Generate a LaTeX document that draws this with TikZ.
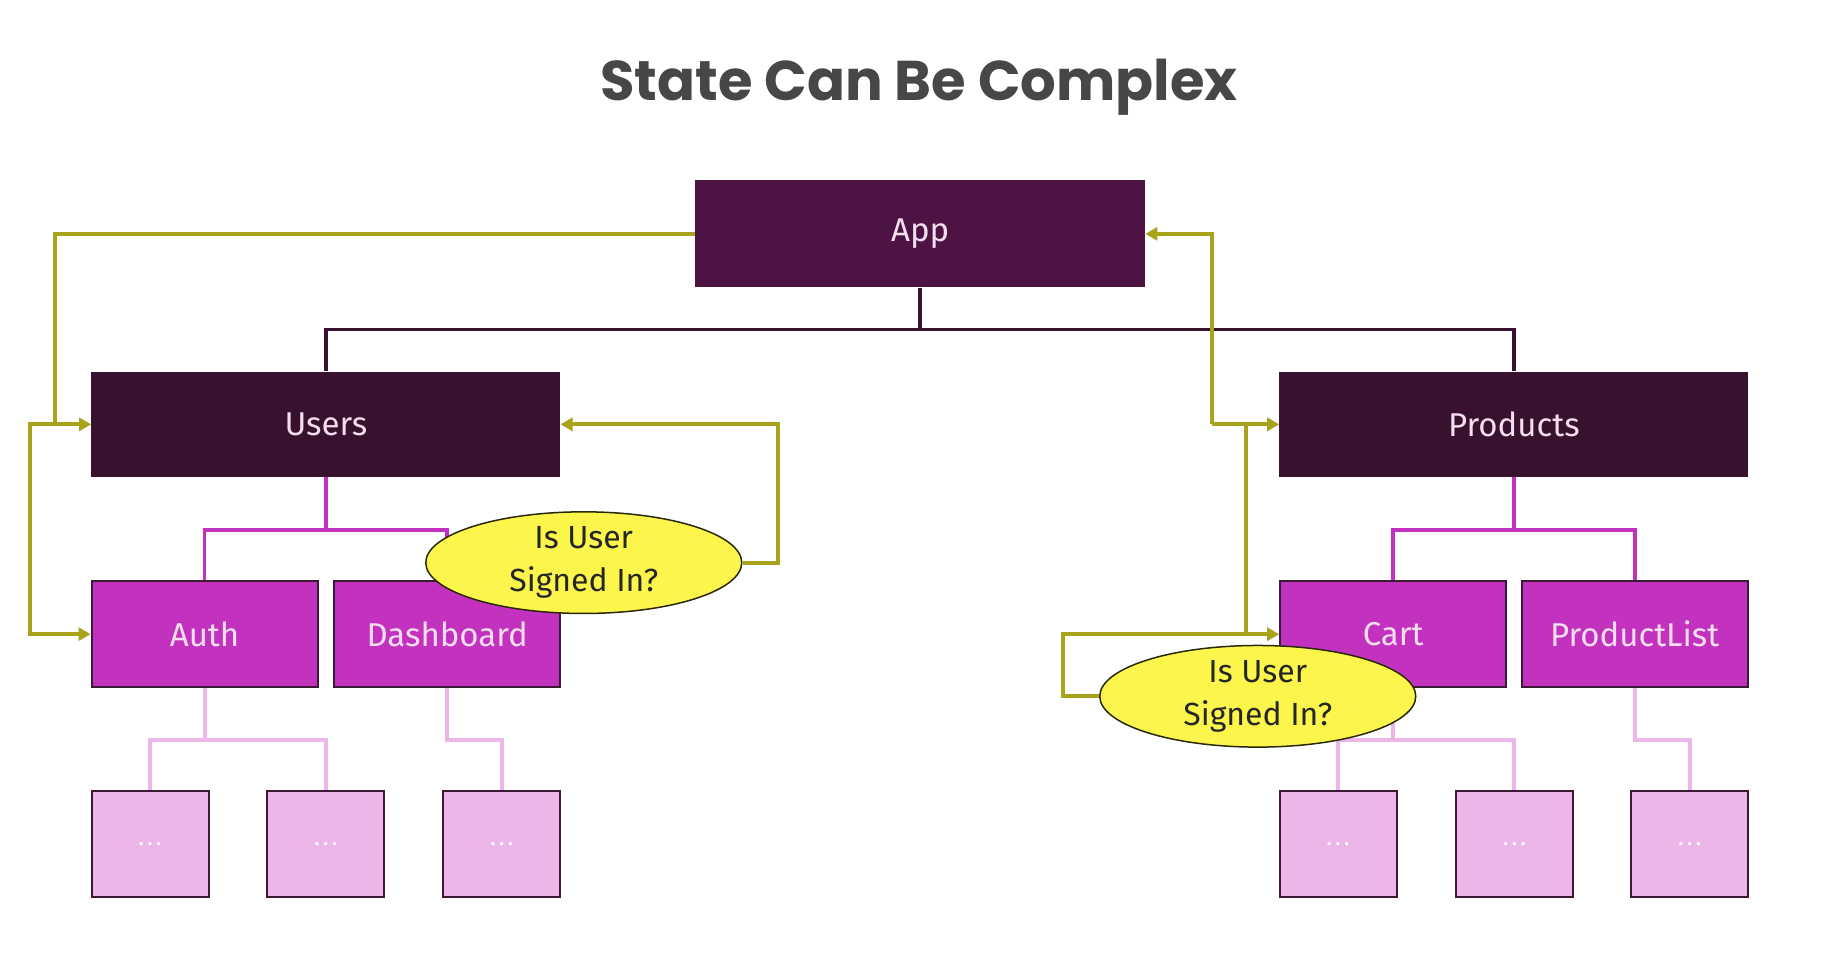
\documentclass[tikz,border=0pt]{standalone}
\usepackage{fontspec}
\setmainfont{Fira Sans}
\newfontfamily\titlefont{Poppins}[UprightFont=* Bold]
\usetikzlibrary{shapes.geometric,arrows.meta,backgrounds}
\definecolor{appc}{HTML}{4D1443}
\definecolor{darkc}{HTML}{38112F}
\definecolor{magc}{HTML}{C332BF}
\definecolor{pinkc}{HTML}{EDB6E9}
\definecolor{olivec}{HTML}{A9A21B}
\definecolor{yelc}{HTML}{FCF64C}
\definecolor{bordc}{HTML}{3A1A35}
\definecolor{lighttxt}{HTML}{F3DDEF}
\definecolor{titlec}{HTML}{474747}
\newcommand{\leafdots}{.\hspace{3pt}.\hspace{3pt}.}
\tikzset{
  box/.style={rectangle, inner sep=0pt, text=lighttxt, font=\fontsize{33}{38}\selectfont},
  topbox/.style={box, fill=appc, minimum width=450pt, minimum height=107pt},
  midbox/.style={box, fill=darkc, minimum width=469pt, minimum height=105.5pt},
  compbox/.style={box, fill=magc, draw=bordc, line width=2pt, minimum width=226pt, minimum height=105.5pt},
  leafbox/.style={box, fill=pinkc, draw=bordc, line width=2pt, minimum width=117pt, minimum height=105.5pt, font=\fontsize{24}{26}\selectfont, text=white!92!pinkc, text depth=-4pt},
  question/.style={ellipse, fill=yelc, draw=black!75!olivec, line width=1.5pt, minimum width=316pt, minimum height=101pt, inner sep=0pt, align=center, text=black!85, font=\fontsize{32}{43}\selectfont},
  darkline/.style={draw=darkc, line width=3.5pt},
  magline/.style={draw=magc, line width=3.8pt},
  pinkline/.style={draw=pinkc, line width=4pt},
  oliveline/.style={draw=olivec, line width=4pt},
  olivearrow/.style={oliveline, -{Triangle[length=12pt,width=13pt]}},
}
\begin{document}
\begin{tikzpicture}[x=1.1722pt, y=-1.1722pt]
\useasboundingbox (0,0) rectangle (1568,819);

\node[anchor=base, text=titlec, font=\titlefont\fontsize{56}{60}\selectfont] (title) at (784,86) {State Can Be Complex};

\node[topbox] (App) at (785,199.5) {App};
\node[midbox] (Users) at (278,362) {Users};
\node[midbox] (Products) at (1291.5,362) {Products};
\node[compbox] (Auth) at (174.5,541) {Auth};
\node[compbox] (Dashboard) at (381.5,541) {Dashboard};
\node[compbox] (Cart) at (1188.5,541) {Cart};
\node[compbox] (ProductList) at (1394.5,541) {ProductList};
\node[leafbox] (b1) at (128,720) {\leafdots};
\node[leafbox] (b2) at (278,720) {\leafdots};
\node[leafbox] (b3) at (428,720) {\leafdots};
\node[leafbox] (b4) at (1141.5,720) {\leafdots};
\node[leafbox] (b5) at (1292,720) {\leafdots};
\node[leafbox] (b6) at (1441.5,720) {\leafdots};

\node[question] (E1) at (498,480) {Is User\\Signed In?};
\node[question] (E2) at (1073,594) {Is User\\Signed In?};

\coordinate (jA) at (785,281);
\coordinate (jU) at (278,452);
\coordinate (jP) at (1291.5,452);
\coordinate (jAu) at (174.5,631);
\coordinate (jD) at (381.5,631);
\coordinate (jC) at (1188.5,631);
\coordinate (jPL) at (1394.5,631);
\coordinate (cL) at (47,362);
\coordinate (cL2) at (26,362);
\coordinate (cR1) at (664,362);
\coordinate (cJ) at (1034,362);
\coordinate (cK) at (1063,362);
\coordinate (cK2) at (1063,541);
\coordinate (cE2) at (907,541);

\begin{scope}[on background layer]
\fill[white] (0,0) rectangle (1568,819);
\draw[darkline] (App.south) -- (jA);
\draw[darkline] (jA) -| (Users.north);
\draw[darkline] (jA) -| (Products.north);
\draw[magline] (Users.south) -- (jU);
\draw[magline] (jU) -| (Auth.north);
\draw[magline] (jU) -| (Dashboard.north);
\draw[magline] (Products.south) -- (jP);
\draw[magline] (jP) -| (Cart.north);
\draw[magline] (jP) -| (ProductList.north);
\draw[pinkline] (Auth.south) -- (jAu);
\draw[pinkline] (jAu) -| (b1.north);
\draw[pinkline] (jAu) -| (b2.north);
\draw[pinkline] (Dashboard.south) -- (jD) -| (b3.north);
\draw[pinkline] (Cart.south) -- (jC);
\draw[pinkline] (jC) -| (b4.north);
\draw[pinkline] (jC) -| (b5.north);
\draw[pinkline] (ProductList.south) -- (jPL) -| (b6.north);
\draw[olivearrow] (App.west) -| (cL) -- (Users.west);
\draw[olivearrow] (cL) -- (cL2) |- (Auth.west);
\draw[olivearrow] (E1.east) -| (cR1) -- (Users.east);
\draw[olivearrow] (cJ) |- (App.east);
\draw[olivearrow] (cJ) -- (Products.west);
\draw[oliveline] (cK) -- (cK2);
\draw[olivearrow] (E2.west) -| (cE2) -- (Cart.west);
\end{scope}
\end{tikzpicture}
\end{document}
